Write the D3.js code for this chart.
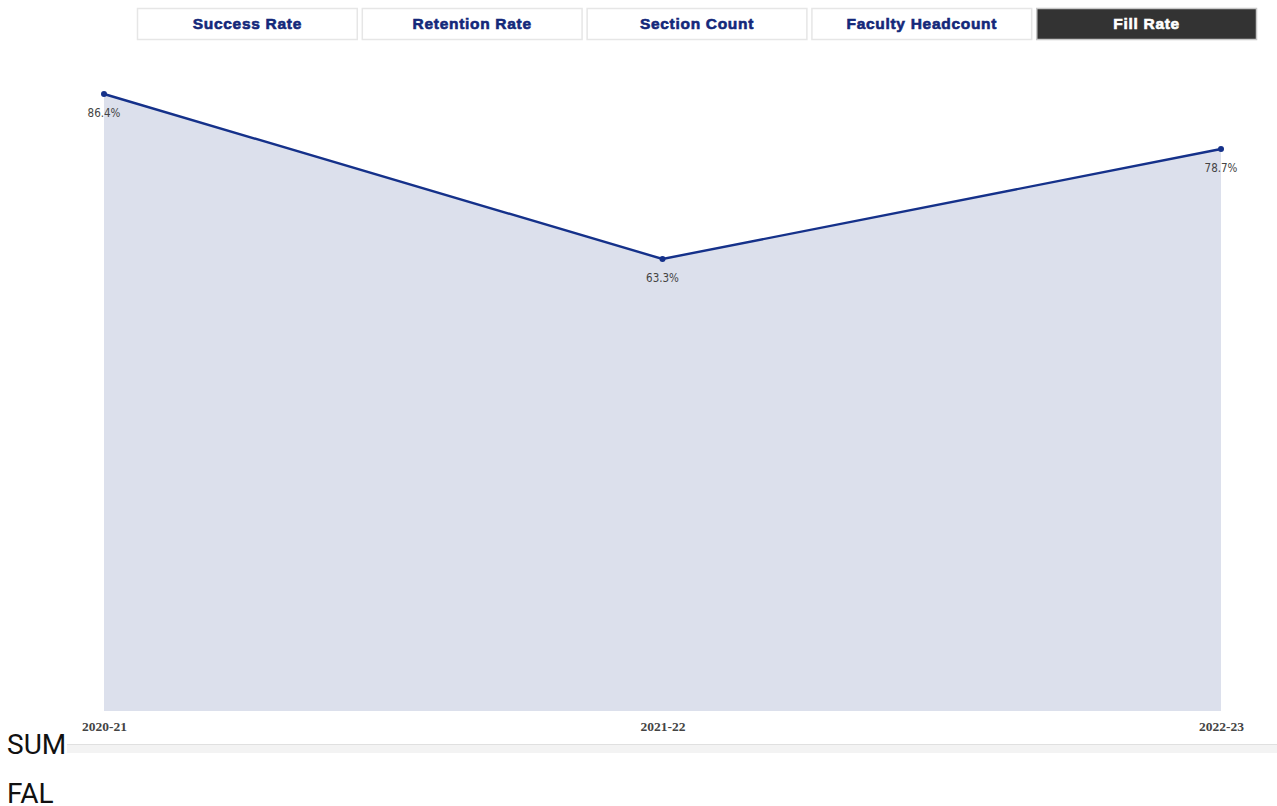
<!DOCTYPE html>
<html><head><meta charset="utf-8">
<script src="https://cdn.jsdelivr.net/npm/d3@7"></script>
<style>
body{margin:0;background:#fff;overflow:hidden;}
svg{display:block;}
</style></head>
<body>
<svg id="c" width="1277" height="806"></svg>
<script>
const tabs = ["Success Rate","Retention Rate","Section Count","Faculty Headcount","Fill Rate"];
const activeTab = "Fill Rate";
const years = ["2020-21","2021-22","2022-23"];
const fillRate = [86.4, 63.3, 78.7];
const sideLabels = ["SUM","FAL"];

const svg = d3.select("#c");
const data = years.map((y,i)=>({year:y, v:fillRate[i]}));

// tabs
const tx = d3.scaleBand().domain(tabs).range([137,1257]).paddingInner(0.018);
const tg = svg.append("g").selectAll("g").data(tabs).join("g")
  .attr("transform", d=>`translate(${tx(d)},8)`);
tg.append("rect").attr("x",0.5).attr("y",0.5).attr("width",tx.bandwidth()-1).attr("height",31)
  .attr("fill", d=>d===activeTab?"#333333":"#fff")
  .attr("stroke", d=>d===activeTab?"#c8c8c8":"#e6e6e6").attr("stroke-width",1.5);
tg.append("text").attr("x",tx.bandwidth()/2).attr("y",21)
  .attr("text-anchor","middle")
  .attr("font-family","Liberation Sans, Arial, sans-serif").attr("font-weight","bold").attr("font-size",15.5)
  .attr("letter-spacing",0.7)
  .attr("fill", d=>d===activeTab?"#fff":"#14287a")
  .attr("stroke", d=>d===activeTab?"#fff":"#14287a").attr("stroke-width",0.6)
  .text(d=>d);

// chart
const x = d3.scalePoint().domain(years).range([104,1221]);
const y = d3.scaleLinear().domain([0, d3.max(fillRate)]).range([711, 94]);

svg.append("path").datum(data)
  .attr("fill","#dce0ec")
  .attr("d", d3.area().x(d=>x(d.year)).y0(y(0)).y1(d=>y(d.v)));
svg.append("path").datum(data)
  .attr("fill","none").attr("stroke","#15318a").attr("stroke-width",2.4)
  .attr("d", d3.line().x(d=>x(d.year)).y(d=>y(d.v)));
svg.append("g").selectAll("circle").data(data).join("circle")
  .attr("cx",d=>x(d.year)).attr("cy",d=>y(d.v)).attr("r",3).attr("fill","#15318a");
svg.append("g").selectAll("text").data(data).join("text")
  .attr("x",d=>x(d.year)).attr("y",d=>y(d.v)+23)
  .attr("text-anchor","middle").attr("font-family","DejaVu Sans Condensed, DejaVu Sans, sans-serif")
  .attr("font-size",11.5).attr("fill","#444")
  .text(d=>d.v.toFixed(1)+"%");

// x axis labels
const xAxis = d3.axisBottom(x).tickSize(0).tickPadding(0);
const ax = svg.append("g").attr("transform","translate(0,721)").call(xAxis);
ax.select(".domain").remove();
ax.selectAll("text").attr("font-family","Liberation Serif, Times New Roman, serif")
  .attr("font-weight","bold").attr("font-size",13.5).attr("fill","#444");

// separator band
svg.append("rect").attr("x",67).attr("y",744).attr("width",1210).attr("height",9).attr("fill","#f3f3f3");
svg.append("line").attr("x1",67).attr("x2",1277).attr("y1",744.5).attr("y2",744.5).attr("stroke","#e0e0e0");

// side labels
svg.append("g").selectAll("text").data(sideLabels).join("text")
  .attr("x",7).attr("y",(d,i)=>754+i*49)
  .attr("font-family","Roboto, sans-serif").attr("font-size",28).attr("fill","#111")
  .text(d=>d);
</script>
</body></html>
